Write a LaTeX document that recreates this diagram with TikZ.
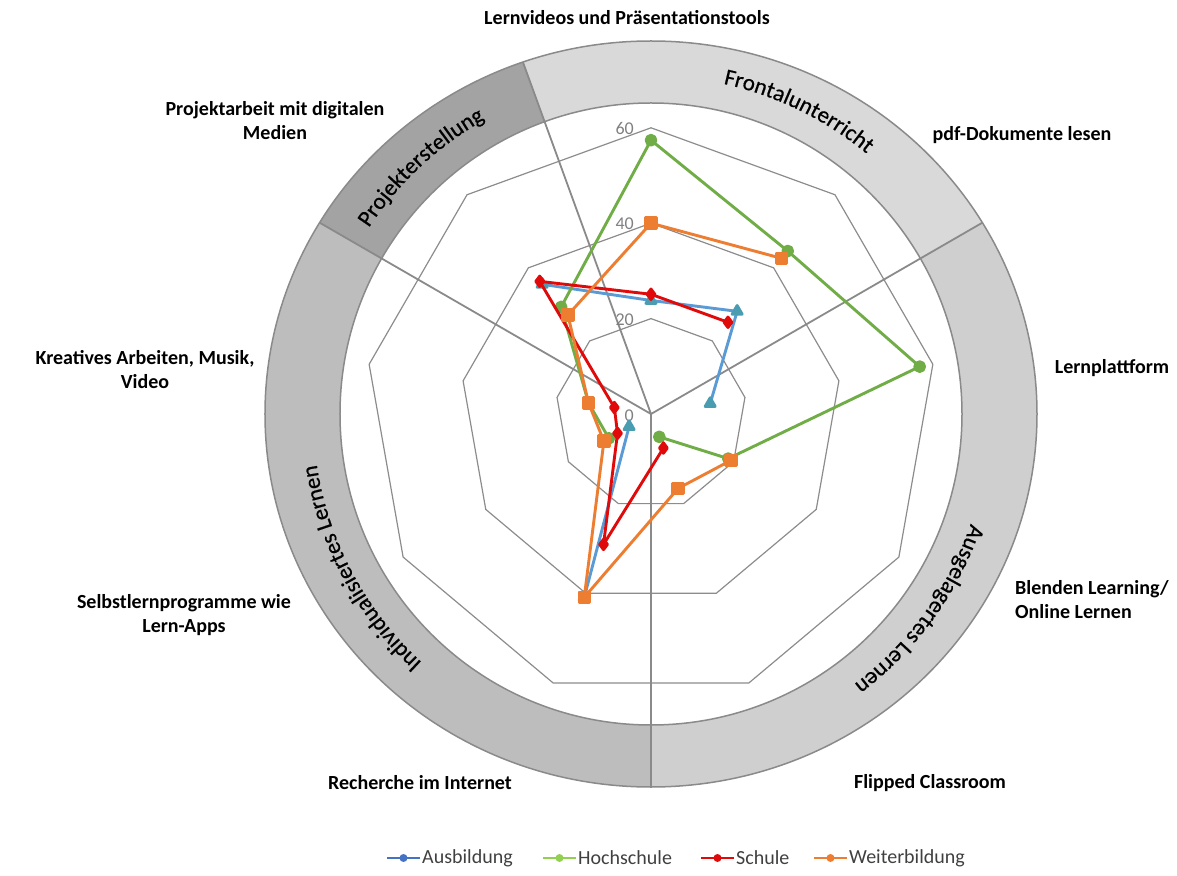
\documentclass[tikz,border=0pt]{standalone}
\usepackage{fontspec}
\setmainfont{Carlito}
\newfontfamily\ringfam[FakeBold=0.5]{Carlito}
\usetikzlibrary{decorations.text,plotmarks}

\definecolor{frontfill}{HTML}{D9D9D9}
\definecolor{ausgfill}{HTML}{CFCFCF}
\definecolor{indivfill}{HTML}{BDBDBD}
\definecolor{projfill}{HTML}{A3A3A3}
\definecolor{ringgray}{HTML}{8A8A8A}
\definecolor{gridgray}{HTML}{8C8C8C}
\definecolor{tickgray}{HTML}{808080}
\definecolor{leggray}{HTML}{404040}
\definecolor{ausbline}{HTML}{5B9BD5}
\definecolor{ausbmark}{HTML}{4A9DB0}
\definecolor{ausbleg}{HTML}{4472C4}
\definecolor{hochline}{HTML}{70AD47}
\definecolor{hochleg}{HTML}{92D050}
\definecolor{schuline}{HTML}{E00A0A}
\definecolor{weitline}{HTML}{ED7D31}

\newcommand{\ringfont}{\ringfam\fontsize{23}{23}\selectfont}

\begin{document}
\begin{tikzpicture}[x=1pt,y=1pt,
    cat/.style={font=\bfseries\fontsize{20}{24}\selectfont, align=center, inner sep=0pt},
    tick/.style={anchor=east, text=tickgray, font=\fontsize{18}{18}\selectfont, inner sep=0pt},
    legtext/.style={anchor=west, text=leggray, font=\fontsize{20}{20}\selectfont, inner sep=0pt},
    legline/.style={line width=2.8},
    legdot/.style={circle, inner sep=0pt, minimum size=8},
    gridline/.style={gridgray, line width=1.2},
    divider/.style={ringgray, line width=1.8},
    ringtext/.style={decorate, decoration={text along path, text align=center, text={#1}}},
    series/.style={line width=2.9, line join=round, mark options={solid, line width=0.4}},
    ausbser/.style={series, ausbline, mark=triangle*, mark size=5.8, mark options={fill=ausbmark, draw=ausbmark}},
    hochser/.style={series, hochline, mark=*, mark size=4.9, mark options={fill=hochline, draw=hochline}},
    schuser/.style={series, schuline, mark=diamond*, mark size=5.2, mark options={fill=schuline, draw=schuline}},
    weitser/.style={series, weitline, mark=square*, mark size=5.3, mark options={fill=weitline, draw=weitline}}]
    \useasboundingbox (-651,-461) rectangle (526,414);

    % ring segments
    \begin{scope}
        \clip (0,0) -- (30:600) arc[start angle=30, end angle=110, radius=600] -- cycle;
        \fill[frontfill, even odd rule] (0,0) ellipse [x radius=386, y radius=373] (0,0) circle [radius=311];
    \end{scope}
    \begin{scope}
        \clip (0,0) -- (110:600) arc[start angle=110, end angle=150, radius=600] -- cycle;
        \fill[projfill, even odd rule] (0,0) ellipse [x radius=386, y radius=373] (0,0) circle [radius=311];
    \end{scope}
    \begin{scope}
        \clip (0,0) -- (150:600) arc[start angle=150, end angle=270, radius=600] -- cycle;
        \fill[indivfill, even odd rule] (0,0) ellipse [x radius=386, y radius=373] (0,0) circle [radius=311];
    \end{scope}
    \begin{scope}
        \clip (0,0) -- (-90:600) arc[start angle=-90, end angle=30, radius=600] -- cycle;
        \fill[ausgfill, even odd rule] (0,0) ellipse [x radius=386, y radius=373] (0,0) circle [radius=311];
    \end{scope}
    \draw[ringgray, line width=1.5] (0,0) ellipse [x radius=386, y radius=373];
    \draw[ringgray, line width=1.5] (0,0) circle [radius=311];

    % grid
    \begin{scope}[x=4.77pt,y=4.77pt]
        \draw[gridline] (90:20) -- (50:20) -- (10:20) -- (-30:20) -- (-70:20) -- (-110:20) -- (-150:20) -- (170:20) -- (130:20) -- cycle;
        \draw[gridline] (90:40) -- (50:40) -- (10:40) -- (-30:40) -- (-70:40) -- (-110:40) -- (-150:40) -- (170:40) -- (130:40) -- cycle;
        \draw[gridline] (90:60) -- (50:60) -- (10:60) -- (-30:60) -- (-70:60) -- (-110:60) -- (-150:60) -- (170:60) -- (130:60) -- cycle;
    \end{scope}

    \begin{scope}
        \clip (0,0) ellipse [x radius=386, y radius=373];
        \draw[divider] (0,0) -- (110:420) (0,0) -- (30:420) (0,0) -- (150:420) (0,0) -- (270:420);
    \end{scope}

    \node[tick] (tick0) at (-17,-2) {0};
    \node[tick] (tick20) at (-17,94) {20};
    \node[tick] (tick40) at (-17,190) {40};
    \node[tick] (tick60) at (-17,286) {60};

    % data
    \begin{scope}[x=4.77pt,y=4.77pt]
        \draw[ausbser] plot coordinates {(130:35.5) (90:23.8) (50:28.1) (10:12.6)};
        \draw[ausbser] plot coordinates {(-110:40.9) (-150:5.3)};
        \draw[hochser] plot coordinates {(-150:10.2) (170:13.3) (130:29.3) (90:57.4) (50:44.6) (10:57.2) (-30:18.7) (-70:5.1)};
        \draw[schuser] plot coordinates {(-70:7.6) (-110:29.1) (-150:8.1) (170:7.8) (130:36.3) (90:25.1) (50:25.1)};
        \draw[weitser] plot coordinates {(-30:19.4) (-70:16.6) (-110:40.9) (-150:11.4) (170:13.3) (130:27.1) (90:40) (50:42.6)};
    \end{scope}

    % ring labels
    \path[ringtext={|\ringfont|Frontalunterricht}] (104:338) arc[start angle=104, end angle=24, radius=338];
    \path[ringtext={|\ringfont|Projekterstellung}] (158:338) arc[start angle=158, end angle=108, radius=338];
    \path[ringtext={|\ringfont|Individualisiertes Lernen}] (268:338) arc[start angle=268, end angle=148, radius=338];
    \path[ringtext={|\ringfont|Ausgelagertes Lernen}] (24:338) arc[start angle=24, end angle=-96, radius=338];

    % category labels
    \node[cat] (lernvideos) at (-24,396) {Lernvideos und Präsentationstools};
    \node[cat] (pdfdok) at (371,279) {pdf-Dokumente lesen};
    \node[cat] (plattform) at (461,46) {Lernplattform};
    \node[cat, anchor=west, align=left] (blended) at (364,-186) {Blenden Learning/\\Online Lernen};
    \node[cat] (flipped) at (279,-369) {Flipped Classroom};
    \node[cat] (recherche) at (-231,-369) {Recherche im Internet};
    \node[cat] (selbstlern) at (-467,-201) {Selbstlernprogramme wie\\Lern-Apps};
    \node[cat] (kreativ) at (-506,44) {Kreatives Arbeiten, Musik,\\Video};
    \node[cat] (projekt) at (-376,293) {Projektarbeit mit digitalen\\Medien};

    % legend
    \node[legtext] (legausb) at (-229,-444) {Ausbildung};
    \node[legtext] (leghoch) at (-73,-444) {Hochschule};
    \node[legtext] (legschu) at (85,-444) {Schule};
    \node[legtext] (legweit) at (198,-444) {Weiterbildung};
    \draw[legline, ausbleg] ([xshift=-35]legausb.west) -- ([xshift=-2]legausb.west) node[midway, legdot, fill=ausbleg] {};
    \draw[legline, hochleg] ([xshift=-35]leghoch.west) -- ([xshift=-2]leghoch.west) node[midway, legdot, fill=hochleg] {};
    \draw[legline, schuline] ([xshift=-35]legschu.west) -- ([xshift=-2]legschu.west) node[midway, legdot, fill=schuline] {};
    \draw[legline, weitline] ([xshift=-35]legweit.west) -- ([xshift=-2]legweit.west) node[midway, legdot, fill=weitline] {};
\end{tikzpicture}
\end{document}
